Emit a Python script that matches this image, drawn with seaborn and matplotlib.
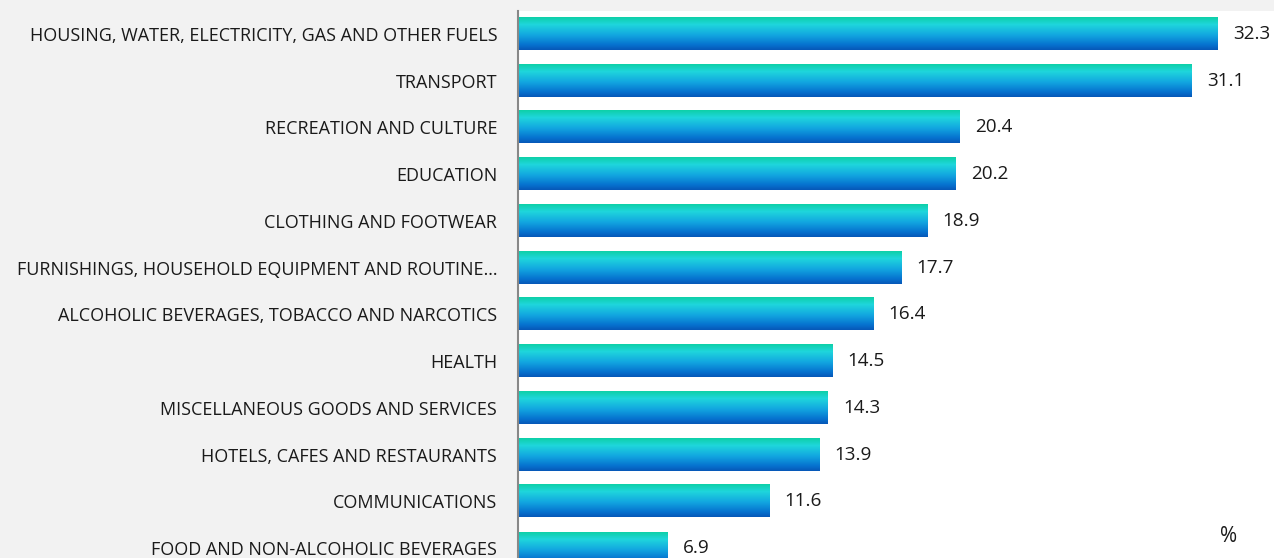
import numpy as np
import pandas as pd
import matplotlib
matplotlib.use("Agg")
import matplotlib.pyplot as plt
from matplotlib.colors import LinearSegmentedColormap
import seaborn as sns

categories = [
    "HOUSING, WATER, ELECTRICITY, GAS AND OTHER FUELS",
    "TRANSPORT",
    "RECREATION AND CULTURE",
    "EDUCATION",
    "CLOTHING AND FOOTWEAR",
    "FURNISHINGS, HOUSEHOLD EQUIPMENT AND ROUTINE\u2026",
    "ALCOHOLIC BEVERAGES, TOBACCO AND NARCOTICS",
    "HEALTH",
    "MISCELLANEOUS GOODS AND SERVICES",
    "HOTELS, CAFES AND RESTAURANTS",
    "COMMUNICATIONS",
    "FOOD AND NON-ALCOHOLIC BEVERAGES",
]
values = [32.3, 31.1, 20.4, 20.2, 18.9, 17.7, 16.4, 14.5, 14.3, 13.9, 11.6, 6.9]
unit_label = "%"

df = pd.DataFrame({"category": categories, "value": values})

sns.set_theme(style="white")
plt.rcParams["font.family"] = ["Open Sans", "DejaVu Sans"]

fig = plt.figure(figsize=(12.74, 5.58), dpi=100)
fig.patch.set_facecolor("#f2f2f2")
ax = fig.add_axes([518 / 1274, 0.0, 1 - 518 / 1274, (558 - 11) / 558])
ax.set_facecolor("white")

sns.barplot(data=df, x="value", y="category", orient="h", ax=ax,
            width=0.685, color="#1aa0e0", saturation=1)

cmap = LinearSegmentedColormap.from_list(
    "barg", [(0.0, "#0ed0a8"), (0.22, "#1fd6dc"), (0.55, "#12a6e0"),
             (0.85, "#0672cf"), (1.0, "#0758b8")])
grad = cmap(np.linspace(0, 1, 64))[:, None, :3]

for p in list(ax.patches):
    x0, y0 = p.get_x(), p.get_y()
    w, h = p.get_width(), p.get_height()
    p.set_facecolor("none")
    p.set_edgecolor("none")
    ax.imshow(grad, extent=(x0, x0 + w, y0 + h, y0), origin="upper",
              aspect="auto", interpolation="bilinear", zorder=2)

for i, v in enumerate(values):
    ax.annotate(f"{v:.1f}", xy=(v, i), xytext=(11, 0), textcoords="offset points",
                ha="left", va="center", fontsize=13.6, color="#1a1a1a")

ax.text(0.94, 0.04, unit_label, transform=ax.transAxes,
        ha="center", va="center", fontsize=15, color="#1a1a1a")

ax.set_xlim(0, 34.9)
ax.set_ylim(11.21, -0.49)
ax.set_xlabel("")
ax.set_ylabel("")
ax.set_xticks([])
ax.tick_params(axis="y", length=0, pad=15, labelsize=13.0, labelcolor="#1a1a1a")
for s in ["top", "right", "bottom"]:
    ax.spines[s].set_visible(False)
ax.spines["left"].set_color("#888888")
ax.spines["left"].set_linewidth(1.5)

fig.savefig("out.png", dpi=100, facecolor=fig.get_facecolor())
